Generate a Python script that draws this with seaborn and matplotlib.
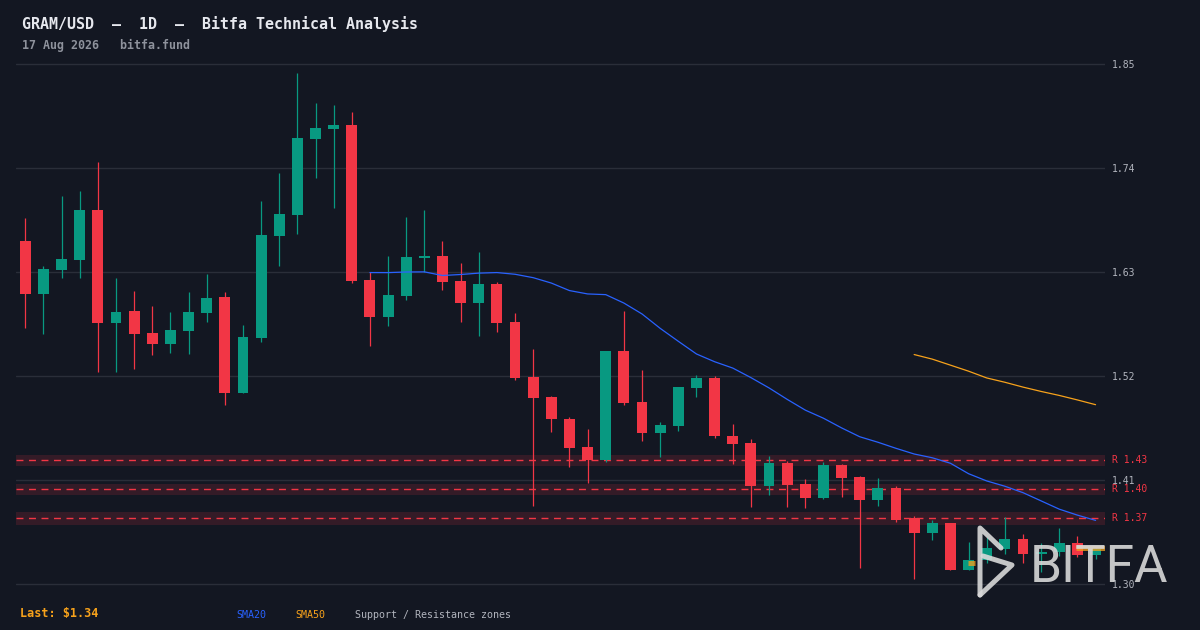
import numpy as np
import pandas as pd
import matplotlib
matplotlib.use("Agg")
import matplotlib.pyplot as plt
import seaborn as sns
from matplotlib.lines import Line2D
from matplotlib.transforms import blended_transform_factory

# ---- data (daily candles) ----
opens = [1.663, 1.607, 1.632, 1.643, 1.696, 1.576, 1.589, 1.566, 1.554, 1.568,
         1.587, 1.604, 1.502, 1.560, 1.668, 1.690, 1.771, 1.781, 1.786, 1.622,
         1.582, 1.605, 1.645, 1.647, 1.621, 1.597, 1.617, 1.577, 1.519, 1.498,
         1.474, 1.445, 1.431, 1.546, 1.492, 1.460, 1.467, 1.507, 1.518, 1.457,
         1.449, 1.404, 1.428, 1.406, 1.391, 1.426, 1.413, 1.389, 1.402, 1.370,
         1.354, 1.364, 1.315, 1.325, 1.337, 1.348, 1.332, 1.334, 1.343, 1.331]
highs = [1.687, 1.636, 1.710, 1.716, 1.746, 1.624, 1.610, 1.594, 1.588, 1.609,
         1.628, 1.609, 1.574, 1.705, 1.735, 1.841, 1.809, 1.807, 1.799, 1.630,
         1.647, 1.688, 1.696, 1.663, 1.640, 1.651, 1.619, 1.587, 1.549, 1.499,
         1.477, 1.464, 1.546, 1.589, 1.526, 1.471, 1.508, 1.521, 1.520, 1.469,
         1.453, 1.435, 1.430, 1.411, 1.429, 1.427, 1.414, 1.412, 1.404, 1.372,
         1.368, 1.365, 1.344, 1.350, 1.371, 1.353, 1.343, 1.359, 1.351, 1.338]
lows = [1.571, 1.564, 1.624, 1.624, 1.524, 1.524, 1.527, 1.542, 1.544, 1.543,
        1.577, 1.489, 1.502, 1.556, 1.636, 1.670, 1.729, 1.698, 1.618, 1.552,
        1.573, 1.600, 1.630, 1.611, 1.577, 1.562, 1.567, 1.516, 1.383, 1.461,
        1.424, 1.407, 1.429, 1.489, 1.451, 1.434, 1.462, 1.498, 1.454, 1.427,
        1.381, 1.394, 1.381, 1.380, 1.390, 1.392, 1.317, 1.383, 1.366, 1.305,
        1.347, 1.315, 1.315, 1.322, 1.332, 1.322, 1.313, 1.330, 1.3285, 1.326]
closes = [1.607, 1.633, 1.644, 1.696, 1.576, 1.588, 1.564, 1.554, 1.569, 1.588,
          1.603, 1.502, 1.561, 1.669, 1.691, 1.772, 1.782, 1.786, 1.621, 1.582,
          1.606, 1.646, 1.647, 1.619, 1.597, 1.617, 1.576, 1.518, 1.497, 1.474,
          1.444, 1.431, 1.546, 1.491, 1.460, 1.468, 1.508, 1.518, 1.457, 1.448,
          1.404, 1.428, 1.405, 1.391, 1.426, 1.412, 1.389, 1.402, 1.368, 1.354,
          1.364, 1.315, 1.325, 1.338, 1.348, 1.332, 1.334, 1.343, 1.331, 1.337]

# resistance zones
zone_levels = [1.4308, 1.4002, 1.3695]
zone_half = [0.0056, 0.0056, 0.0066]

# orange price markers near the end
marker_price = [1.3219, 1.3384]
marker_from = [51.98, 57.92]
marker_to = [52.35, 59.6]

price_ticks = [1.85, 1.74, 1.63, 1.52, 1.41, 1.30]

# ---- style ----
BG = '#131722'
UP = '#089981'
DOWN = '#f23645'
GRID = '#2a2e39'
TXT = '#b2b5be'
BLUE = '#2962ff'
ORANGE = '#f7a21b'
MONO = ['DejaVu Sans Mono', 'DejaVu Sans']

sns.set_theme(style='dark', rc={
    'axes.facecolor': BG,
    'figure.facecolor': BG,
    'savefig.facecolor': BG,
    'axes.edgecolor': BG,
    'grid.color': GRID,
    'text.color': TXT,
})
plt.rcParams['font.family'] = MONO

W, H = 1200, 630
fx = lambda px: px / W
fy = lambda py: 1 - py / H

fig = plt.figure(figsize=(12, 6.3), dpi=100)
ax = fig.add_axes([fx(16), 34 / H, 1089 / W, 540 / H])

df = pd.DataFrame({'open': opens, 'high': highs, 'low': lows, 'close': closes})
df['i'] = np.arange(len(df))
df['sma20'] = df['close'].rolling(20).mean()
df['sma50'] = df['close'].rolling(50).mean()
colors = np.where(df['close'] >= df['open'], UP, DOWN)

# zones behind the candles
for lvl, half in zip(zone_levels, zone_half):
    ax.axhspan(lvl - half, lvl + half, color=DOWN, alpha=0.15, lw=0, zorder=1)
    ax.axhline(lvl, color=DOWN, lw=1.0, ls=(0, (5, 4)), zorder=1.5)

# candles
ax.vlines(df['i'], df['low'], df['high'], colors=colors, lw=0.9, zorder=3)
ax.bar(df['i'], (df['close'] - df['open']).abs(),
       bottom=df[['open', 'close']].min(axis=1),
       width=0.6, color=colors, lw=0, zorder=4)

# moving averages
sns.lineplot(data=df.dropna(subset=['sma20']), x='i', y='sma20',
             color=BLUE, lw=0.9, ax=ax, zorder=5)
sns.lineplot(data=df.dropna(subset=['sma50']), x='i', y='sma50',
             color=ORANGE, lw=0.9, ax=ax, zorder=5)

ax.hlines(marker_price, marker_from, marker_to, colors=ORANGE,
          lw=3.6, alpha=0.75, zorder=6)

# axes
k = 0.11 / 104
ax.set_xlim(-0.51, 59.52)
ax.set_ylim(1.85 - (596 - 64) * k, 1.85 + (64 - 56) * k)
ax.set_xticks([])
ax.set_yticks(price_ticks)
ax.set_yticklabels([f'{t:.2f}' for t in price_ticks])
ax.yaxis.tick_right()
ax.tick_params(axis='y', length=0, pad=5, labelsize=7, labelcolor=TXT)
ax.yaxis.grid(True, color=GRID, lw=1)
ax.xaxis.grid(False)
ax.set_xlabel('')
ax.set_ylabel('')
for s in ax.spines.values():
    s.set_visible(False)

trans = blended_transform_factory(ax.transAxes, ax.transData)
for lvl in zone_levels:
    ax.text(1 + 7 / 1089, lvl, f'R {lvl:.2f}', transform=trans, color=DOWN,
            fontsize=7, va='center', ha='left', clip_on=False)

# header
fig.text(fx(22), fy(24), 'GRAM/USD  \u2014  1D  \u2014  Bitfa Technical Analysis',
         fontsize=10.8, fontweight='bold', color='#e6e8ee', va='center', ha='left')
fig.text(fx(22), fy(45), '17 Aug 2026   bitfa.fund',
         fontsize=8.4, fontweight='bold', color='#8e929c', va='center', ha='left')

# footer
fig.text(fx(20), fy(613), 'Last: $1.34', fontsize=8.5, fontweight='bold',
         color=ORANGE, va='center', ha='left')
fig.text(fx(236), fy(615), 'SMA20', fontsize=7.2, color=BLUE, va='center', ha='left')
fig.text(fx(295), fy(615), 'SMA50', fontsize=7.2, color=ORANGE, va='center', ha='left')
fig.text(fx(355), fy(615), 'Support / Resistance zones', fontsize=7.2,
         color=TXT, va='center', ha='left')

# watermark logo: upper arm + lower triangle
logo_strokes = [
    ([980, 980, 1001], [595, 528, 548]),
    ([983, 1012, 980], [556, 565, 595]),
]
for xs, ys in logo_strokes:
    fig.add_artist(Line2D([fx(v) for v in xs], [fy(v) for v in ys],
                          transform=fig.transFigure, color='#d9d9d9', alpha=0.9,
                          lw=3.6, solid_joinstyle='round', solid_capstyle='round',
                          zorder=10))
fig.text(fx(1030), fy(582), 'BITFA', fontsize=37, family=['Roboto', 'DejaVu Sans'],
         color='#d9d9d9', alpha=0.9, va='baseline', ha='left', zorder=10)

fig.savefig('out.png', dpi=100, facecolor=BG)
